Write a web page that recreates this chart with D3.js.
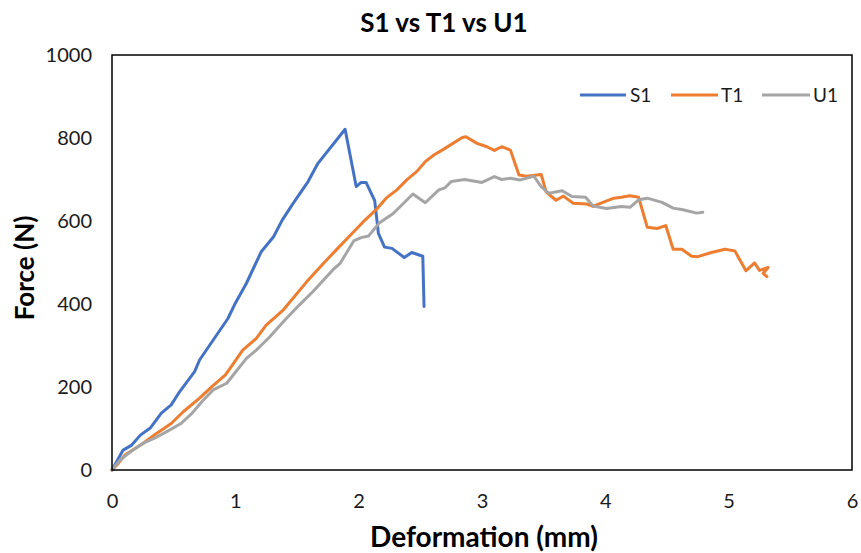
<!DOCTYPE html>
<html>
<head>
<meta charset="utf-8">
<script src="https://cdn.jsdelivr.net/npm/d3@7"></script>
<style>
  html, body { margin: 0; padding: 0; background: #fff; }
  svg { display: block; font-family: Lato, "Open Sans", sans-serif; }
</style>
</head>
<body>
<svg id="chart" width="861" height="553"></svg>
<script>
// Force–deformation test curves for three specimens
const seriesNames = ["S1", "T1", "U1"];
const seriesColors = ["#4472C4", "#ED7D31", "#A5A5A5"];

// [deformation (mm), force (N)]
const s1 = [
  [0, 0], [0.09, 48], [0.16, 60], [0.23, 84], [0.31, 101], [0.40, 137], [0.48, 157],
  [0.54, 185], [0.67, 237], [0.71, 265], [0.94, 365], [1.00, 402], [1.09, 450],
  [1.21, 526], [1.31, 562], [1.38, 602], [1.47, 643], [1.59, 695], [1.67, 739],
  [1.89, 821], [1.98, 683], [2.02, 693], [2.06, 693], [2.13, 649], [2.16, 570],
  [2.21, 537], [2.27, 534], [2.37, 512], [2.43, 524], [2.52, 515], [2.53, 394]
];
const t1 = [
  [0, 0], [0.04, 12], [0.105, 36], [0.25, 64], [0.34, 84], [0.48, 112], [0.58, 141],
  [0.71, 173], [0.81, 201], [0.92, 229], [1.06, 289], [1.17, 317], [1.25, 349],
  [1.39, 386], [1.58, 454], [1.74, 506], [1.83, 534], [1.96, 574], [2.03, 596],
  [2.15, 630], [2.23, 657], [2.31, 675], [2.39, 699], [2.47, 719], [2.54, 743],
  [2.61, 759], [2.70, 775], [2.84, 801], [2.87, 803], [2.96, 787], [3.04, 779],
  [3.10, 770], [3.16, 779], [3.23, 771], [3.30, 711], [3.36, 708], [3.48, 712],
  [3.52, 670], [3.60, 650], [3.66, 660], [3.74, 643], [3.85, 641], [3.90, 635],
  [3.98, 645], [4.07, 655], [4.13, 657], [4.20, 661], [4.27, 657], [4.34, 585],
  [4.42, 582], [4.49, 589], [4.55, 532], [4.62, 532], [4.70, 515], [4.75, 514],
  [4.86, 524], [4.97, 532], [5.05, 528], [5.14, 480], [5.21, 499], [5.25, 481],
  [5.32, 488], [5.28, 474], [5.31, 466]
];
const u1 = [
  [0, 0], [0.065, 24], [0.15, 44], [0.25, 64], [0.34, 76], [0.44, 92], [0.56, 112],
  [0.65, 137], [0.73, 165], [0.82, 193], [0.93, 209], [1.09, 269], [1.17, 289],
  [1.28, 321], [1.40, 361], [1.52, 398], [1.63, 430], [1.79, 482], [1.85, 498],
  [1.96, 552], [2.02, 560], [2.08, 564], [2.17, 596], [2.28, 618], [2.44, 665],
  [2.54, 644], [2.65, 675], [2.70, 680], [2.75, 695], [2.86, 700], [3.00, 693],
  [3.10, 707], [3.16, 700], [3.23, 703], [3.31, 699], [3.42, 708], [3.48, 683],
  [3.54, 667], [3.65, 673], [3.73, 659], [3.84, 657], [3.90, 636], [4.01, 630],
  [4.13, 635], [4.20, 633], [4.27, 651], [4.34, 655], [4.46, 645], [4.55, 631],
  [4.63, 627], [4.74, 619], [4.79, 621]
];
const seriesData = [s1, t1, u1];

const xTicks = [0, 1, 2, 3, 4, 5, 6];
const yTicks = [0, 200, 400, 600, 800, 1000];

const titleText = "S1 vs T1 vs U1";
const xTitle = "Deformation (mm)";
const yTitle = "Force (N)";

const svg = d3.select("#chart");
const margin = { left: 112, right: 9, top: 55, bottom: 83 };
const W = 861, H = 553;
const iw = W - margin.left - margin.right;
const ih = H - margin.top - margin.bottom;

const x = d3.scaleLinear().domain([0, 6]).range([margin.left, margin.left + iw]);
const y = d3.scaleLinear().domain([0, 1000]).range([margin.top + ih, margin.top]);

// Title
svg.append("text")
  .attr("x", 444).attr("y", 32)
  .attr("text-anchor", "middle")
  .attr("font-size", 26).attr("font-weight", "bold")
  .attr("fill", "#000")
  .text(titleText);

// Axes (labels only, no tick marks)
const xAxis = d3.axisBottom(x).tickValues(xTicks).tickSize(0).tickPadding(24).tickFormat(d3.format("d"));
const yAxis = d3.axisLeft(y).tickValues(yTicks).tickSize(0).tickPadding(20).tickFormat(d3.format("d"));

const gx = svg.append("g").attr("transform", `translate(0,${margin.top + ih})`).call(xAxis);
const gy = svg.append("g").attr("transform", `translate(${margin.left},0)`).call(yAxis);
[gx, gy].forEach(g => {
  g.select(".domain").remove();
  g.selectAll("text").attr("font-size", 20).attr("fill", "#1a1a1a").attr("font-family", "Lato, sans-serif");
});

// Lines
const line = d3.line().x(d => x(d[0])).y(d => y(d[1]));
seriesData.forEach((data, i) => {
  svg.append("path")
    .datum(data)
    .attr("fill", "none")
    .attr("stroke", seriesColors[i])
    .attr("stroke-width", 3)
    .attr("stroke-linejoin", "round")
    .attr("stroke-linecap", "round")
    .attr("d", line);
});

// Plot frame
svg.append("rect")
  .attr("x", margin.left).attr("y", margin.top)
  .attr("width", iw).attr("height", ih)
  .attr("fill", "none").attr("stroke", "#000").attr("stroke-width", 1.5);

// Axis titles
svg.append("text")
  .attr("x", 484).attr("y", 547)
  .attr("text-anchor", "middle")
  .attr("font-size", 28).attr("font-weight", "bold")
  .text(xTitle);

svg.append("text")
  .attr("transform", "translate(34,268) rotate(-90)")
  .attr("text-anchor", "middle")
  .attr("font-size", 26).attr("font-weight", "bold")
  .text(yTitle);

// Legend
const legendItems = [
  { x0: 580, x1: 626, tx: 630 },
  { x0: 671, x1: 718, tx: 721 },
  { x0: 762, x1: 810, tx: 813 }
];
seriesNames.forEach((name, i) => {
  const it = legendItems[i];
  svg.append("line")
    .attr("x1", it.x0).attr("x2", it.x1)
    .attr("y1", 95).attr("y2", 95)
    .attr("stroke", seriesColors[i]).attr("stroke-width", 3);
  svg.append("text")
    .attr("x", it.tx).attr("y", 102)
    .attr("font-size", 19).attr("fill", "#1a1a1a")
    .text(name);
});
</script>
</body>
</html>
